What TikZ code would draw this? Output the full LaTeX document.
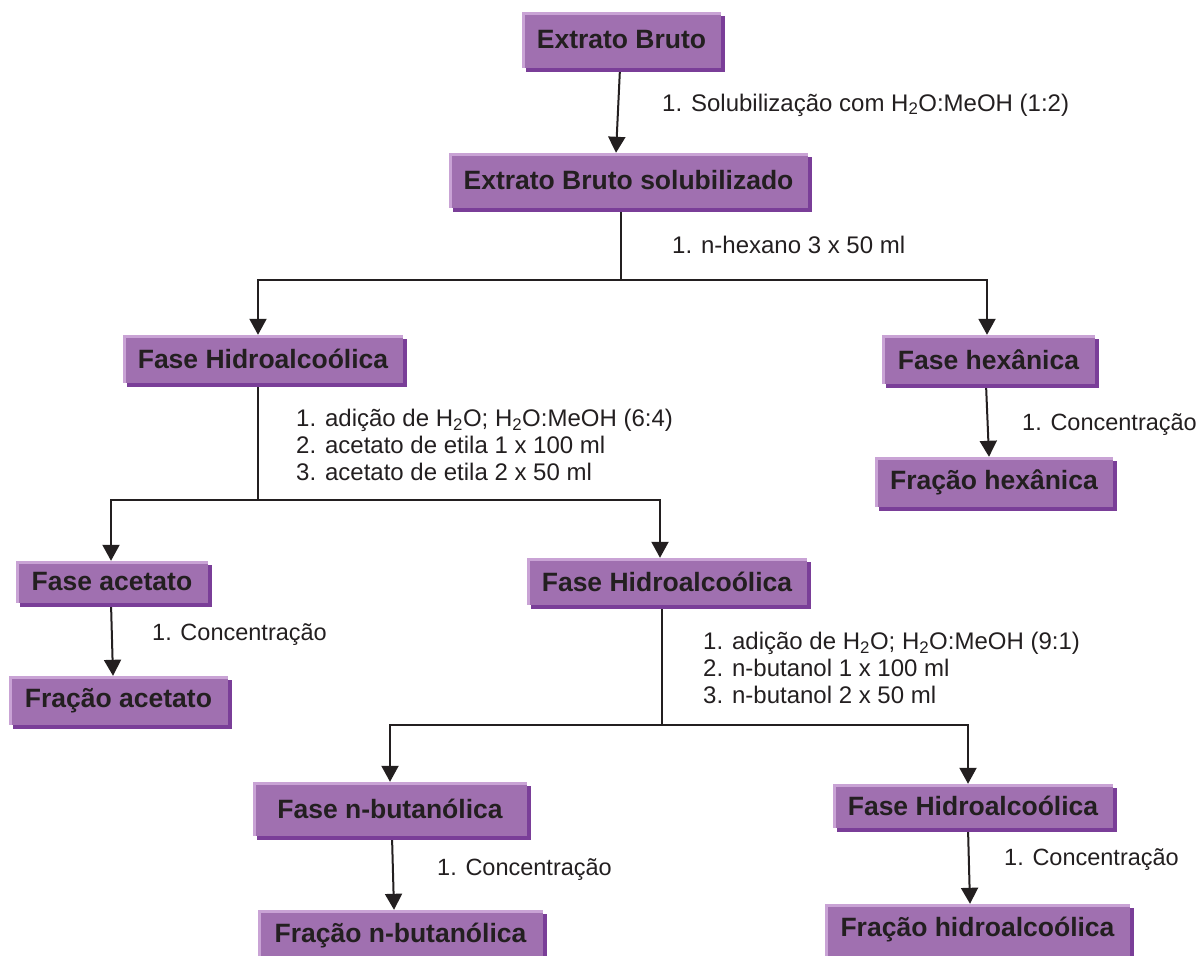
\documentclass[tikz,border=0pt]{standalone}
\usepackage{fontspec}
\setmainfont{Liberation Sans}
\usetikzlibrary{arrows.meta,backgrounds}
\definecolor{boxfill}{HTML}{A070B0}
\definecolor{boxlight}{HTML}{C9A3D5}
\definecolor{boxshadow}{HTML}{7A3E98}
\definecolor{ink}{HTML}{231F20}
\tikzset{
 pbox/.style={rectangle, inner sep=0pt, fill=boxlight, text=ink,
  font=\fontsize{26.5}{30}\selectfont\bfseries,
  preaction={fill=boxshadow, transform canvas={shift={(4pt,-4pt)}}},
  path picture={\fill[boxfill] ([shift={(3pt,-3pt)}]path picture bounding box.north west) rectangle (path picture bounding box.south east);}},
 arr/.style={draw=ink, line width=2pt, -{Triangle[length=16pt,width=17pt]}},
 plain/.style={draw=ink, line width=2pt},
 lbl/.style={text=ink, font=\fontsize{24}{27}\selectfont, anchor=west, align=left, inner sep=0pt},
 conc/.style={lbl, font=\fontsize{23.5}{27}\selectfont},
}
\begin{document}
\begin{tikzpicture}[x=1pt,y=-1pt]
\useasboundingbox (0,0) rectangle (1201,955);
% boxes
\node[pbox, minimum width=199pt, minimum height=56pt] (e1) at (621.5,40) {Extrato Bruto};
\node[pbox, minimum width=359pt, minimum height=55pt] (e2) at (628.5,180.5) {Extrato Bruto solubilizado};
\node[pbox, minimum width=280pt, minimum height=48pt] (f1) at (263,359) {Fase Hidroalcoólica};
\node[pbox, minimum width=213pt, minimum height=49pt] (f2) at (988.5,359.5) {Fase hexânica};
\node[pbox, minimum width=238pt, minimum height=50pt] (f3) at (994,482) {Fração hexânica};
\node[pbox, minimum width=192pt, minimum height=42pt] (g1) at (112,582) {Fase acetato};
\node[pbox, minimum width=219pt, minimum height=49pt] (g3) at (118.5,700.5) {Fração acetato};
\node[pbox, minimum width=280pt, minimum height=47pt] (g2) at (667,581.5) {Fase Hidroalcoólica};
\node[pbox, minimum width=274pt, minimum height=54pt] (h1) at (390,809) {Fase n-butanólica};
\node[pbox, minimum width=285pt, minimum height=52pt] (h3) at (400.5,936) {Fração n-butanólica};
\node[pbox, minimum width=280pt, minimum height=44pt] (h2) at (973,806) {Fase Hidroalcoólica};
\node[pbox, minimum width=305pt, minimum height=52pt] (h4) at (977.5,930) {Fração hidroalcoólica};
% labels
\node[lbl] (l1) at (662,105) {1. Solubilização com H\textsubscript{2}O:MeOH (1:2)};
\node[lbl] (l2) at (672,245) {1. n-hexano 3 x 50 ml};
\node[lbl] (l3) at (296,445) {1. adição de H\textsubscript{2}O; H\textsubscript{2}O:MeOH (6:4)\\2. acetato de etila 1 x 100 ml\\3. acetato de etila 2 x 50 ml};
\node[lbl] (l4) at (703,668) {1. adição de H\textsubscript{2}O; H\textsubscript{2}O:MeOH (9:1)\\2. n-butanol 1 x 100 ml\\3. n-butanol 2 x 50 ml};
\node[conc] (c1) at (1022,425) {1. Concentração};
\node[conc] (c2) at (152,635) {1. Concentração};
\node[conc] (c3) at (437,870) {1. Concentração};
\node[conc] (c4) at (1004,860) {1. Concentração};
% junctions
\coordinate (j1) at (621,280);
\coordinate (j2) at (258,500);
\coordinate (j3) at (662,725);
\begin{scope}[on background layer]
\draw[arr] ([xshift=-1.5pt]e1.south) -- ([xshift=-12.5pt]e2.north);
\draw[plain] (e2.south -| j1) -- (j1);
\draw[arr] (j1) -| ([xshift=-5pt]f1.north);
\draw[arr] (j1) -| ([xshift=-1.5pt]f2.north);
\draw[arr] ([xshift=-2.5pt]f2.south) -- ([xshift=-5pt]f3.north);
\draw[plain] (f1.south -| j2) -- (j2);
\draw[arr] (j2) -| ([xshift=-1pt]g1.north);
\draw[arr] (j2) -| ([xshift=-7pt]g2.north);
\draw[arr] ([xshift=-1pt]g1.south) -- ([xshift=-5.5pt]g3.north);
\draw[plain] (g2.south -| j3) -- (j3);
\draw[arr] (j3) -| (h1.north);
\draw[arr] (j3) -| ([xshift=-5pt]h2.north);
\draw[arr] ([xshift=2pt]h1.south) -- ([xshift=-6.5pt]h3.north);
\draw[arr] ([xshift=-5pt]h2.south) -- ([xshift=-7.5pt]h4.north);
\end{scope}
\end{tikzpicture}
\end{document}
